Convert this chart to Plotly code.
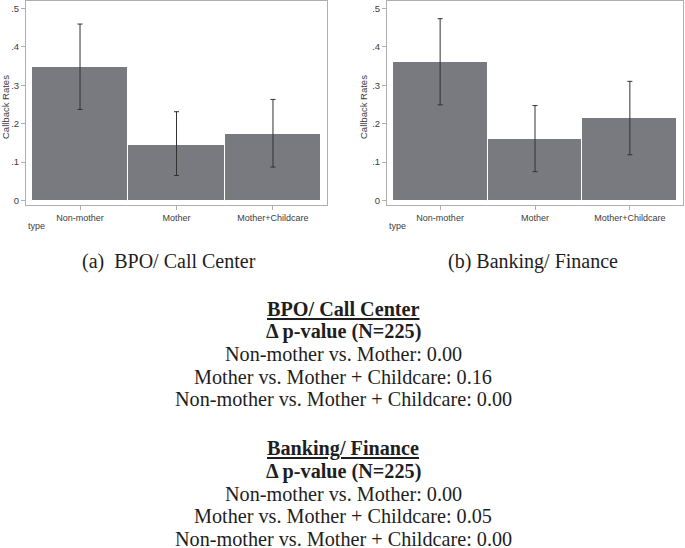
import plotly.graph_objects as go

categories = ["Non-mother", "Mother", "Mother+Childcare"]
bpo_mean = [0.347, 0.145, 0.173]
bpo_hi = [0.459, 0.231, 0.263]
bpo_lo = [0.237, 0.065, 0.087]
bank_mean = [0.361, 0.159, 0.214]
bank_hi = [0.473, 0.247, 0.310]
bank_lo = [0.249, 0.075, 0.119]
ytick_vals = [0, 0.1, 0.2, 0.3, 0.4, 0.5]
ytick_text = ["0", ".1", ".2", ".3", ".4", ".5"]
captions = ["(a)\u00a0 BPO/ Call Center", "(b) Banking/ Finance"]
block1 = ["BPO/ Call Center", "Δ p-value (N=225)", "Non-mother vs. Mother: 0.00",
          "Mother vs. Mother + Childcare: 0.16", "Non-mother vs. Mother + Childcare: 0.00"]
block2 = ["Banking/ Finance", "Δ p-value (N=225)", "Non-mother vs. Mother: 0.00",
          "Mother vs. Mother + Childcare: 0.05", "Non-mother vs. Mother + Childcare: 0.00"]

W, H = 685, 548
BAR = "rgb(120,122,127)"
FRAME = "rgb(175,175,175)"
SANS = "Liberation Sans"
SERIF = "Liberation Serif"

fig = go.Figure()
for i, (m, hi, lo) in enumerate([(bpo_mean, bpo_hi, bpo_lo), (bank_mean, bank_hi, bank_lo)]):
    ax = "" if i == 0 else "2"
    fig.add_trace(go.Bar(
        x=categories, y=m,
        xaxis="x" + ax, yaxis="y" + ax,
        marker=dict(color=BAR, line=dict(color="white", width=1)),
        error_y=dict(type="data", symmetric=False,
                     array=[h - v for h, v in zip(hi, m)],
                     arrayminus=[v - l for l, v in zip(lo, m)],
                     color="rgb(50,50,50)", thickness=1, width=2.5),
        showlegend=False, hoverinfo="skip",
    ))

frames = [(26, 327), (387, 683)]
title_x = [5, 363]
ytop, ybot = 1, 205

def px(x):
    return x / W

def py(y):
    return 1 - y / H

xaxis_common = dict(
    type="category", range=[-0.56, 2.56], showline=True, mirror=True,
    linecolor=FRAME, linewidth=1, ticks="outside", ticklen=4, tickcolor=FRAME,
    tickfont=dict(family=SANS, size=9, color="rgb(60,60,60)"), showgrid=False,
    zeroline=False, fixedrange=True, automargin=False,
)
yaxis_common = dict(
    range=[-0.0117, 0.519], showline=True, mirror=True, linecolor=FRAME,
    linewidth=1, ticks="outside", ticklen=4, tickcolor=FRAME,
    tickvals=ytick_vals, ticktext=ytick_text,
    tickfont=dict(family=SANS, size=9.5, color="rgb(60,60,60)"), showgrid=False,
    zeroline=False, fixedrange=True, automargin=False,
)

fig.update_layout(
    width=W, height=H, margin=dict(l=0, r=0, t=0, b=0, autoexpand=False),
    paper_bgcolor="white", plot_bgcolor="white", bargap=0,
    xaxis=dict(xaxis_common, domain=[px(frames[0][0]), px(frames[0][1])], anchor="y"),
    yaxis=dict(yaxis_common, domain=[py(ybot), py(ytop)], anchor="x"),
    xaxis2=dict(xaxis_common, domain=[px(frames[1][0]), px(frames[1][1])], anchor="y2"),
    yaxis2=dict(yaxis_common, domain=[py(ybot), py(ytop)], anchor="x2"),
)

ann = []
for i, (x0, x1) in enumerate(frames):
    ann.append(dict(x=px(title_x[i]), y=py(107), xref="paper", yref="paper",
                    xanchor="center", yanchor="middle",
                    text="Callback Rates", textangle=-90, showarrow=False,
                    font=dict(family=SANS, size=9.5, color="rgb(60,60,60)")))
    ann.append(dict(x=px(x0), y=py(226), xref="paper", yref="paper",
                    xanchor="left", yanchor="middle", text="type", showarrow=False,
                    font=dict(family=SANS, size=9, color="rgb(60,60,60)")))

for txt, cx in zip(captions, [169, 533]):
    ann.append(dict(x=px(cx), y=py(261), xref="paper", yref="paper",
                    xanchor="center", yanchor="middle",
                    text=txt, showarrow=False,
                    font=dict(family=SERIF, size=20, color="rgb(30,30,30)")))

for block, y0 in [(block1, 309), (block2, 448.5)]:
    for j, line in enumerate(block):
        f = dict(family=SERIF, size=20.2, color="rgb(30,30,30)")
        if j < 2:
            f["weight"] = "bold"
        if j == 0:
            f["lineposition"] = "under"
        ann.append(dict(x=px(343), y=py(y0 + j * 22.6), xref="paper", yref="paper",
                        xanchor="center", yanchor="middle",
                        text=line, showarrow=False, font=f))

fig.update_layout(annotations=ann)
fig.write_html("out.html", config={"displayModeBar": False},
               post_script="document.body.style.margin='0';document.body.style.overflow='hidden';")
